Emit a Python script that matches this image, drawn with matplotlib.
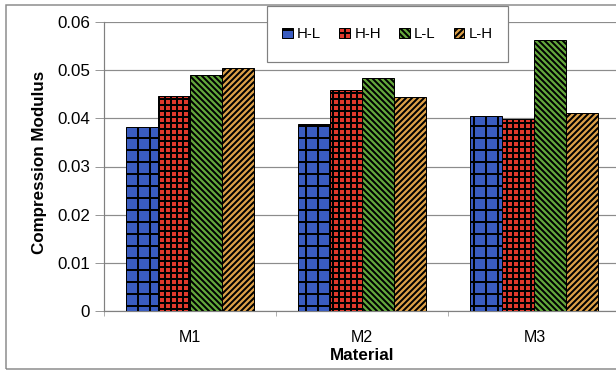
import numpy as np
import matplotlib
matplotlib.use("Agg")
import matplotlib.pyplot as plt
from matplotlib.patches import Rectangle

# --- data ---
materials = ["M1", "M2", "M3"]
series = ["H-L", "H-H", "L-L", "L-H"]
h_l = [0.0383, 0.0388, 0.0404]
h_h = [0.0447, 0.0459, 0.0399]
l_l = [0.0489, 0.0484, 0.0563]
l_h = [0.0505, 0.0445, 0.0412]
y_ticks = [0, 0.01, 0.02, 0.03, 0.04, 0.05, 0.06]
y_tick_labels = ["0", "0.01", "0.02", "0.03", "0.04", "0.05", "0.06"]

colors = ["#3a5cc0", "#e0392c", "#64a83c", "#dca048"]
hatches = ["+", "++", "\\\\\\\\", "////"]

plt.rcParams["font.family"] = ["Liberation Sans", "DejaVu Sans"]
plt.rcParams["hatch.linewidth"] = 2.0

DPI = 72
W, H = 616, 372
fig = plt.figure(figsize=(W / DPI, H / DPI), dpi=DPI)
fig.patch.set_facecolor("white")

# plot area in pixels: x 104..620, y 22..311
ax = fig.add_axes([104 / W, (H - 311) / H, (620.5 - 104) / W, (311 - 22) / H])

x = np.arange(len(materials))
w = 0.186
for i, (vals, c, h) in enumerate(zip([h_l, h_h, l_l, l_h], colors, hatches)):
    ax.bar(x + (i - 1.5) * w, vals, width=w, color=c, edgecolor="black",
           hatch=h, linewidth=1.0, label=series[i], zorder=3)

ax.set_xlim(-0.5, 2.5)
ax.set_ylim(0, 0.06)
ax.set_yticks(y_ticks)
ax.set_yticklabels(y_tick_labels, fontsize=17)
ax.yaxis.grid(True, color="#8c8c8c", linewidth=1.2, zorder=0)
ax.set_axisbelow(True)

ax.set_xticks(x)
ax.set_xticklabels(materials, fontsize=16)
ax.tick_params(axis="x", which="major", length=0, pad=19)
ax.set_xticks([-0.5, 0.5, 1.5], minor=True)
ax.tick_params(axis="x", which="minor", length=5, color="#808080", direction="out")
ax.tick_params(axis="y", length=9, color="#808080", direction="out", pad=5)

for s in ["top", "right"]:
    ax.spines[s].set_visible(False)
for s in ["left", "bottom"]:
    ax.spines[s].set_color("#808080")
    ax.spines[s].set_linewidth(1.2)

fig.text(362 / W, 1 - 356 / H, "Material", fontsize=17, fontweight="bold",
         ha="center", va="center")
fig.text(40 / W, 1 - 162 / H, "Compression Modulus", fontsize=17,
         fontweight="bold", rotation=90, ha="center", va="center")

# outer chart frame
fig.patches.append(Rectangle((6 / W, (H - 369) / H), 1.0, (369 - 5) / H,
                             transform=fig.transFigure, fill=False,
                             edgecolor="#8a8a8a", linewidth=1.5, zorder=1))

# legend box
fig.patches.append(Rectangle((267 / W, (H - 62) / H), (508 - 267) / W, (62 - 6) / H,
                             transform=fig.transFigure, facecolor="white",
                             edgecolor="#808080", linewidth=1.2, zorder=4))
handles, labels = ax.get_legend_handles_labels()
leg = fig.legend(handles, labels, loc="center", ncol=4, frameon=False,
                 bbox_to_anchor=(387.5 / W, 1 - 34 / H), bbox_transform=fig.transFigure,
                 fontsize=15, handlelength=0.7, handleheight=0.7,
                 handletextpad=0.3, columnspacing=1.2)
leg.set_zorder(5)

fig.savefig("out.png", dpi=DPI)
